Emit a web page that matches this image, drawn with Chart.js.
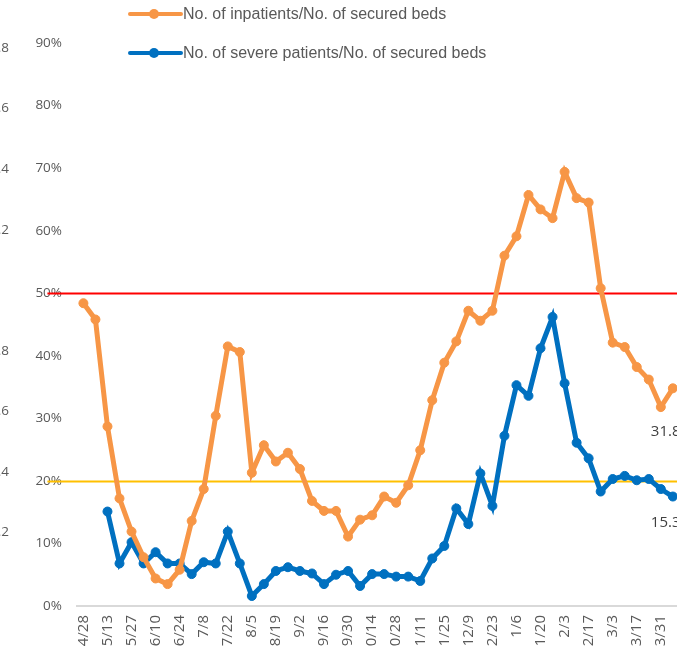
<!DOCTYPE html>
<html>
<head>
<meta charset="utf-8">
<script src="https://cdn.jsdelivr.net/npm/chart.js@4.4.1/dist/chart.umd.min.js"></script>
<style>
  html, body { margin: 0; padding: 0; background: #fff; }
  #wrap { position: relative; width: 677px; height: 649px; overflow: hidden; }
  #chart { position: absolute; left: -10px; top: 0; }
  #legend { position: absolute; left: 128px; top: 0; font-family: "Liberation Sans", Arial, sans-serif; font-size: 16px; color: #595959; }
  .item { position: absolute; left: 0; height: 20px; display: flex; align-items: center; white-space: nowrap; }
  .mark { position: relative; width: 55px; height: 20px; flex: none; }
  .mark .ln { position: absolute; left: 0; right: 0; top: 8px; height: 4px; border-radius: 2px; }
  .mark .dot { position: absolute; left: 21px; top: 5px; width: 10px; height: 10px; border-radius: 50%; }
</style>
</head>
<body>
<div id="wrap">
  <canvas id="chart" width="710" height="670"></canvas>
  <div id="legend"></div>
</div>
<script>
// weekly dates (every other one is shown on the axis)
const weeks = ['4/28', '5/6', '5/13', '5/20', '5/27', '6/3', '6/10', '6/17', '6/24', '7/1',
  '7/8', '7/15', '7/22', '7/29', '8/5', '8/12', '8/19', '8/26', '9/2', '9/9',
  '9/16', '9/23', '9/30', '10/7', '10/14', '10/21', '10/28', '11/4', '11/11', '11/18',
  '11/25', '12/2', '12/9', '12/16', '12/23', '12/30', '1/6', '1/13', '1/20', '1/27',
  '2/3', '2/10', '2/17', '2/24', '3/3', '3/10', '3/17', '3/24', '3/31', '4/7'];

// % of secured beds
const inpatients = [48.4, 45.8, 28.7, 17.2, 11.9, 7.8, 4.4, 3.5, 5.8, 13.6,
  18.7, 30.4, 41.5, 40.6, 21.3, 25.7, 23.1, 24.5, 21.9, 16.8,
  15.2, 15.2, 11.1, 13.8, 14.5, 17.5, 16.5, 19.3, 24.9, 32.9,
  38.9, 42.3, 47.2, 45.6, 47.2, 56.0, 59.1, 65.7, 63.4, 62.0,
  69.4, 65.2, 64.5, 50.8, 42.1, 41.4, 38.2, 36.2, 31.8, 34.8];
const severe = [null, null, 15.1, 6.8, 10.2, 6.8, 8.6, 6.8, 6.8, 5.1,
  7.0, 6.8, 11.9, 6.8, 1.6, 3.5, 5.6, 6.2, 5.6, 5.2,
  3.5, 5.0, 5.6, 3.2, 5.1, 5.1, 4.7, 4.7, 4.0, 7.6,
  9.6, 15.6, 13.1, 21.2, 16.0, 27.2, 35.3, 33.6, 41.2, 46.2,
  35.6, 26.1, 23.6, 18.3, 20.3, 20.8, 20.1, 20.3, 18.7, 17.5];

// reference lines (%)
const thresholds = [50, 20];
const thresholdColors = ['#FF0000', '#FFC000'];

// labels next to the 3/31 points (cut off at the edge)
const endLabels = ['31.8%', '15.3%'];
const endLabelIndex = 48;

// stray axis from the neighbouring chart on the left
const sideTicks = [0, 0.2, 0.4, 0.6, 0.8, 1, 1.2, 1.4, 1.6, 1.8];

const orange = '#F79646';
const blue = '#0070C0';
const gray = '#595959';

const datasets = [
  { label: 'No. of inpatients/No. of secured beds', data: inpatients, color: orange },
  { label: 'No. of severe patients/No. of secured beds', data: severe, color: blue }
].map(d => ({
  label: d.label,
  data: d.data,
  borderColor: d.color,
  backgroundColor: d.color,
  pointBackgroundColor: d.color,
  pointBorderColor: d.color,
  borderWidth: 5,
  pointRadius: 4.5,
  pointBorderWidth: 1,
  tension: 0,
  spanGaps: false
}));

// horizontal reference lines, drawn below the series
const refLines = {
  id: 'refLines',
  beforeDatasetsDraw(chart) {
    const { ctx, chartArea } = chart;
    const y = chart.scales.y;
    ctx.save();
    thresholds.forEach((t, i) => {
      const py = Math.round(y.getPixelForValue(t)) + 0.5;
      ctx.strokeStyle = thresholdColors[i];
      ctx.lineWidth = 2;
      ctx.beginPath();
      ctx.moveTo(chartArea.left - 30, py);
      ctx.lineTo(chart.width, py);
      ctx.stroke();
    });
    ctx.restore();
  }
};

// data labels near the last points
const endText = {
  id: 'endText',
  afterDatasetsDraw(chart) {
    const { ctx } = chart;
    const dy = [25, 34];
    ctx.save();
    ctx.font = '15px "Open Sans", sans-serif';
    ctx.fillStyle = '#404040';
    ctx.textAlign = 'left';
    ctx.textBaseline = 'middle';
    chart.data.datasets.forEach((ds, i) => {
      const pt = chart.getDatasetMeta(i).data[endLabelIndex];
      if (pt) ctx.fillText(endLabels[i], pt.x - 10, pt.y + dy[i]);
    });
    ctx.restore();
  }
};

const chart = new Chart(document.getElementById('chart'), {
  type: 'line',
  data: { labels: weeks, datasets: datasets },
  options: {
    responsive: false,
    animation: false,
    devicePixelRatio: 1,
    layout: { padding: { top: 43, right: 15, bottom: 0, left: 0 } },
    plugins: {
      legend: { display: false },
      tooltip: { enabled: false }
    },
    scales: {
      x: {
        type: 'category',
        offset: true,
        grid: { display: false, drawTicks: false },
        border: { display: true, color: '#D9D9D9', width: 2 },
        ticks: {
          autoSkip: false,
          minRotation: 90,
          maxRotation: 90,
          padding: 9,
          color: gray,
          font: { family: '"Open Sans", sans-serif', size: 15 },
          callback: function (val, index) {
            return index % 2 === 0 ? this.getLabelForValue(val) : '';
          }
        },
        afterFit: (scale) => { scale.height = 64; }
      },
      y: {
        position: 'left',
        weight: 0,
        min: 0,
        max: 90,
        grid: { display: false, drawTicks: false },
        border: { display: false },
        ticks: {
          stepSize: 10,
          padding: 15.4,
          color: gray,
          font: { family: '"Open Sans", sans-serif', size: 13.5 },
          callback: (v) => v + '%'
        },
        afterFit: (scale) => { scale.width = 67.4; }
      },
      side: {
        position: 'left',
        weight: 1,
        min: -0.043,
        max: 1.8165,
        grid: { display: false, drawTicks: false },
        border: { display: false },
        ticks: {
          crossAlign: 'far',
          padding: 0,
          color: gray,
          font: { family: '"Open Sans", sans-serif', size: 13.5 },
          callback: (v) => (v === 0 ? '0' : v === 1 ? '1' : v.toFixed(1))
        },
        afterBuildTicks: (scale) => { scale.ticks = sideTicks.map(v => ({ value: v })); },
        afterFit: (scale) => { scale.width = 20; }
      }
    }
  },
  plugins: [refLines, endText]
});

// legend, one entry per row
const legend = document.getElementById('legend');
const rowTops = [4, 43];
chart.data.datasets.forEach((ds, i) => {
  const item = document.createElement('div');
  item.className = 'item';
  item.style.top = rowTops[i] + 'px';
  item.innerHTML = '<span class="mark"><span class="ln" style="background:' + ds.borderColor +
    '"></span><span class="dot" style="background:' + ds.borderColor + '"></span></span>';
  const txt = document.createElement('span');
  txt.textContent = ds.label;
  item.appendChild(txt);
  legend.appendChild(item);
});
</script>
</body>
</html>
